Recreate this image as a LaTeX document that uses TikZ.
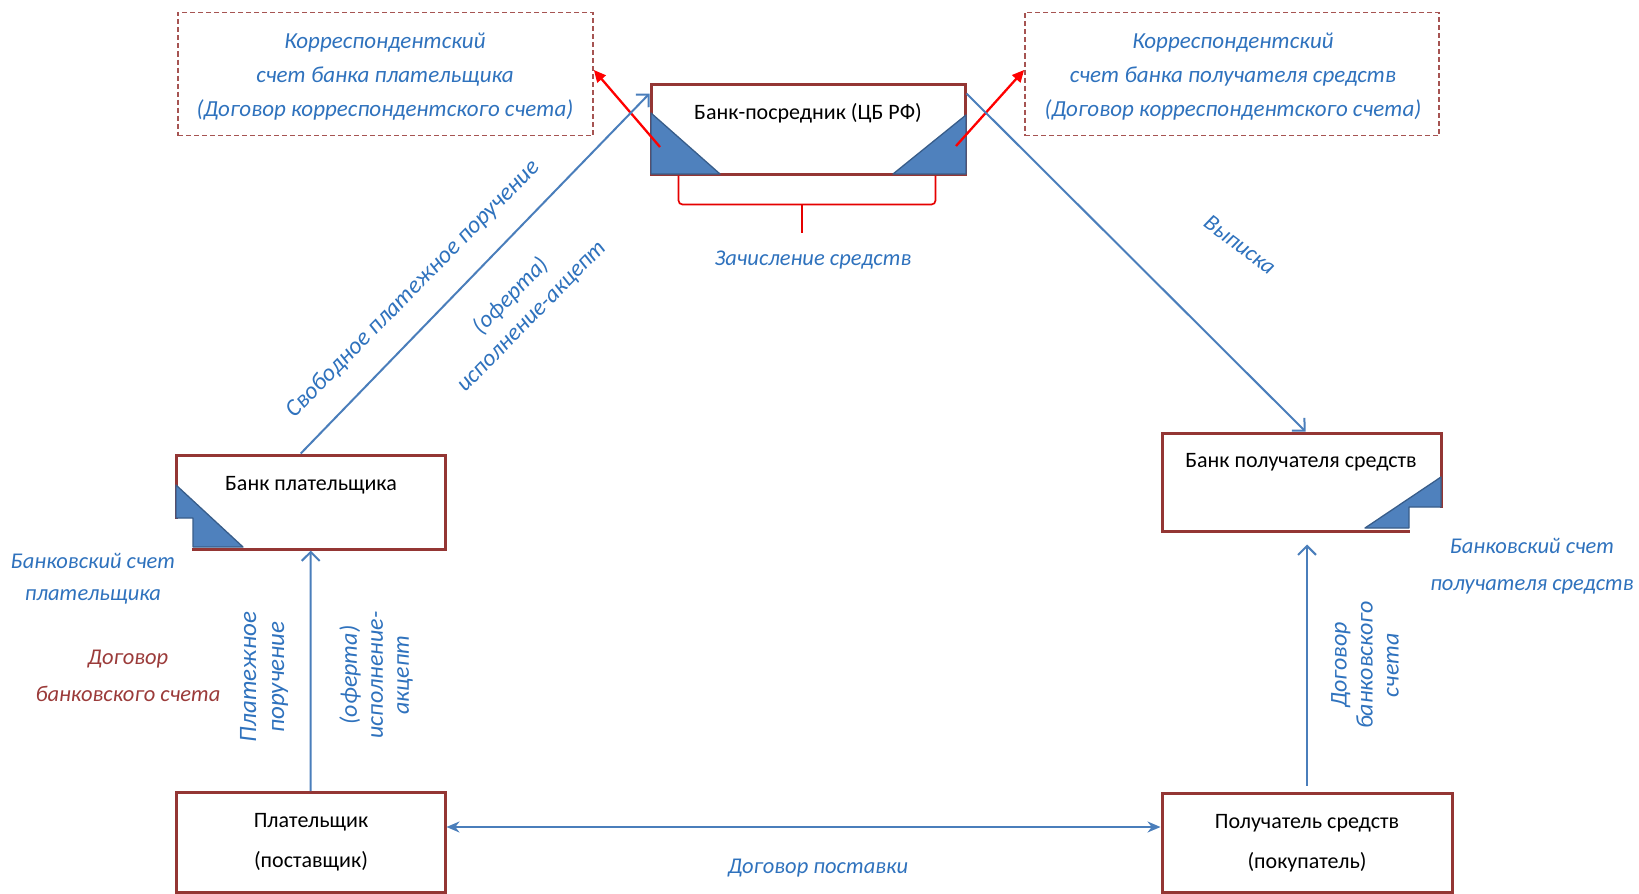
\documentclass[tikz,border=0pt]{standalone}
\usepackage{fontspec}
\setmainfont{Carlito}
\usetikzlibrary{arrows.meta}
\definecolor{boxred}{HTML}{943634}
\definecolor{dashred}{HTML}{A65452}
\definecolor{lineblue}{HTML}{4A7EBB}
\definecolor{lblue}{HTML}{2F72BD}
\definecolor{dred}{HTML}{9B3B3A}
\definecolor{triblue}{HTML}{4F81BD}
\definecolor{triedge}{HTML}{385D8A}
\begin{document}
\begin{tikzpicture}[x=1pt,y=-1pt,
  box/.style={draw=boxred, line width=3pt, fill=white, inner sep=0pt},
  dbox/.style={draw=dashred, line width=1.7pt, dash pattern=on 5pt off 3pt, inner sep=0pt},
  lbl/.style={text=lblue, font=\fontsize{22.5}{34}\selectfont\itshape, align=center, inner sep=0pt},
  btxt/.style={text=black, font=\fontsize{22}{40}\selectfont, align=center, inner sep=0pt},
  bline/.style={draw=lineblue, line width=2pt},
  barrow/.style={bline, -{Straight Barb[length=9pt,width=18pt,line width=2pt]}},
  darrow/.style={bline, {Stealth[length=13pt,width=11pt]}-{Stealth[length=13pt,width=11pt]}},
  rarrow/.style={draw=red, line width=2.3pt, -{Triangle[length=12pt,width=11pt]}},
  tri/.style={fill=triblue, draw=triedge, line width=1.3pt, line join=round},
  brace/.style={draw=red!90!black, line width=1.7pt, rounded corners=4pt}
]
\useasboundingbox (0,0) rectangle (1639,894);

% dashed account boxes
\node[dbox, minimum width=415pt, minimum height=123pt] (kl) at (385.5,74) {};
\node[dbox, minimum width=414pt, minimum height=123pt] (kr) at (1232,74) {};
\node[lbl, font=\fontsize{23}{34}\selectfont\itshape] (klt) at (385,77)
  {Корреспондентский\\счет банка плательщика\\(Договор корреспондентского счета)};
\node[lbl, font=\fontsize{23}{34}\selectfont\itshape] (krt) at (1233,77)
  {Корреспондентский\\счет банка получателя средств\\(Договор корреспондентского счета)};

% main boxes
\node[box, minimum width=314pt, minimum height=90pt] (cb) at (808,129) {};
\node[box, minimum width=269.5pt, minimum height=94pt] (bp) at (310.75,502) {};
\node[box, minimum width=279pt, minimum height=98pt] (br) at (1301.5,482) {};
\node[box, minimum width=269pt, minimum height=100pt] (p) at (310.5,842.5) {};
\node[box, minimum width=290pt, minimum height=99pt] (r) at (1307,842.5) {};

% box texts
\node[btxt] (cbt) at (808,113) {Банк-посредник (ЦБ РФ)};
\node[btxt] (bpt) at (311,485) {Банк плательщика};
\node[btxt] (brt) at (1301,462) {Банк получателя средств};
\node[btxt] (pt) at (311,842) {Плательщик\\(поставщик)};
\node[btxt] (rt) at (1307,843) {Получатель средств\\(покупатель)};

% account triangles
\draw[tri] (651,113) -- (720,174) -- (651,174) -- cycle;
\draw[tri] (966,115) -- (966,174) -- (893,174) -- cycle;
\fill[white] (172,519) rectangle (192,553);
\draw[tri] (176,485) -- (243,547) -- (193,547) -- (193,518) -- (176,518) -- cycle;
\fill[white] (1410,508) rectangle (1445,535);
\draw[tri] (1441,477) -- (1441,507) -- (1409,507) -- (1409,528) -- (1365,528) -- cycle;

% brace
\draw[brace] ([xshift=29pt]cb.south west) -- ++(0,29) -- ([xshift=-31pt,yshift=-29pt]cb.south east) -- ([xshift=-31pt]cb.south east);
\draw[brace] ([xshift=-6pt,yshift=-29pt]cb.south) -- ++(0,28);
\node[lbl] (zs) at (813,260) {Зачисление средств};

% red arrows
\coordinate (tl) at (660,147);
\coordinate (tr) at (956,146);
\draw[rarrow] (tl) -- ([yshift=4pt]kl.east);
\draw[rarrow] (tr) -- ([yshift=4pt]kr.west);

% blue connectors
\draw[barrow] ([xshift=-10pt]bp.north) -- ([yshift=-11pt]cb.north west);
\draw[barrow] ([yshift=-11pt]cb.north east) -- ([xshift=4pt]br.north);
\draw[barrow] (p.north) -- (bp.south);
\draw[barrow] ([yshift=6pt]r.north) -- ([yshift=-12pt]r.north |- br.south);
\coordinate (h) at (0,827);
\draw[darrow] (p.east |- h) -- (r.west |- h);

% labels
\node[lbl, font=\fontsize{24}{29}\selectfont\itshape, rotate=45.5] (l1) at (413,289) {Свободное платежное поручение};
\node[lbl, font=\fontsize{23.5}{29}\selectfont\itshape, rotate=45.5] (l2) at (521,306) {(оферта)\\исполнение-акцепт};
\node[lbl, font=\fontsize{23}{34}\selectfont\itshape, rotate=-37] (l3) at (1240,245) {Выписка};
\node[lbl, font=\fontsize{25}{28}\selectfont\itshape, rotate=90] (l4) at (264,677) {Платежное\\поручение};
\node[lbl, font=\fontsize{24}{26}\selectfont\itshape, rotate=90] (l5) at (376,675) {(оферта)\\исполнение-\\акцепт};
\node[lbl, font=\fontsize{24}{26}\selectfont\itshape, rotate=90] (l6) at (1365,665) {Договор\\банковского\\счета};
\node[lbl, font=\fontsize{22.5}{32}\selectfont\itshape] (l7) at (93,579) {Банковский счет\\плательщика};
\node[lbl, text=dred, font=\fontsize{22.5}{37}\selectfont\itshape] (l8) at (128,676) {Договор\\банковского счета};
\node[lbl, font=\fontsize{22.5}{37}\selectfont\itshape] (l9) at (1532,566) {Банковский счет\\получателя средств};
\node[lbl] (l10) at (818,868) {Договор поставки};
\end{tikzpicture}
\end{document}
